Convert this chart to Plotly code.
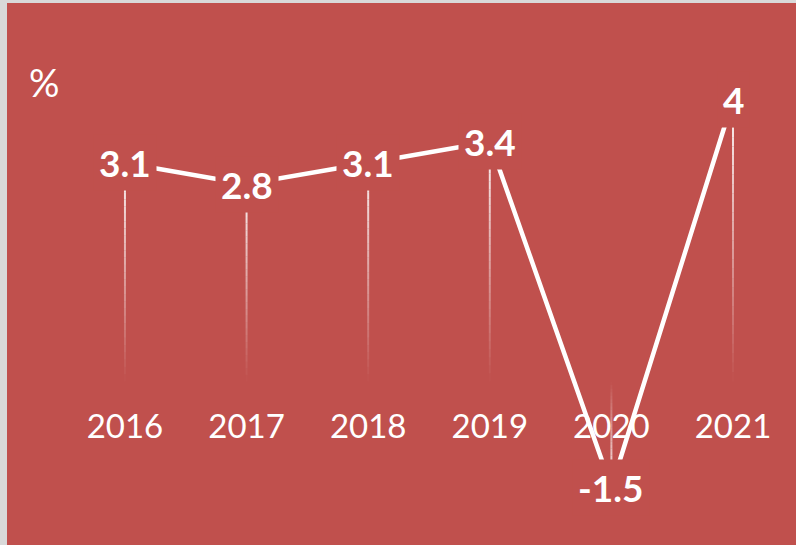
import plotly.graph_objects as go

# data
years = ["2016", "2017", "2018", "2019", "2020", "2021"]
growth = [3.1, 2.8, 3.1, 3.4, -1.5, 4]
value_labels = ["3.1", "2.8", "3.1", "3.4", "-1.5", "4"]
unit_label = "%"

BG = "#C0504D"
FONT = "Lato, Carlito, Calibri, sans-serif"

fig = go.Figure()

# drop lines: white at the point, fading towards zero
n_steps = 30
for k in range(n_steps):
    xs, ys = [], []
    for yr, v in zip(years, growth):
        y0 = v * (1 - k / n_steps)
        y1 = v * (1 - (k + 1) / n_steps)
        xs += [yr, yr, None]
        ys += [y0, y1, None]
    alpha = max(0.0, 1 - (k + 0.5) / n_steps) * 0.95
    fig.add_trace(go.Scatter(
        x=xs, y=ys, mode="lines",
        line=dict(color=f"rgba(255,255,255,{alpha:.3f})", width=2),
        hoverinfo="skip", showlegend=False
    ))

# main line
fig.add_trace(go.Scatter(
    x=years, y=growth, mode="lines",
    line=dict(color="white", width=4.5),
    showlegend=False
))

# value labels with background box covering the line
# (category index as x, a "2016" string would be read as a number)
for i, (v, lab) in enumerate(zip(growth, value_labels)):
    fig.add_annotation(
        x=i, y=v, text=f"<b>{lab}</b>", showarrow=False,
        font=dict(family=FONT, size=37, color="white"),
        bgcolor=BG, borderpad=5,
        xanchor="center", yanchor="middle"
    )

fig.add_annotation(
    x=0.0, y=0.855, xref="paper", yref="paper",
    text=unit_label, showarrow=False,
    xanchor="left", yanchor="middle", xshift=20,
    font=dict(family=FONT, size=38, color="white")
)

fig.update_layout(
    width=796, height=545,
    margin=dict(l=7, r=0, t=3, b=0),
    paper_bgcolor="#d9d9d9",
    plot_bgcolor=BG,
    showlegend=False,
    xaxis=dict(
        type="category",
        range=[-0.970, 5.518],
        showgrid=False, zeroline=False, showline=False,
        ticks="", anchor="free", position=0.26,
        layer="below traces",
        tickfont=dict(family=FONT, size=33, color="white"),
        fixedrange=True
    ),
    yaxis=dict(
        range=[-2.319, 5.369],
        visible=False, showgrid=False, zeroline=False,
        fixedrange=True
    ),
)

fig.write_html("out.html", config={"displayModeBar": False},
               post_script="document.body.style.margin='0';")
